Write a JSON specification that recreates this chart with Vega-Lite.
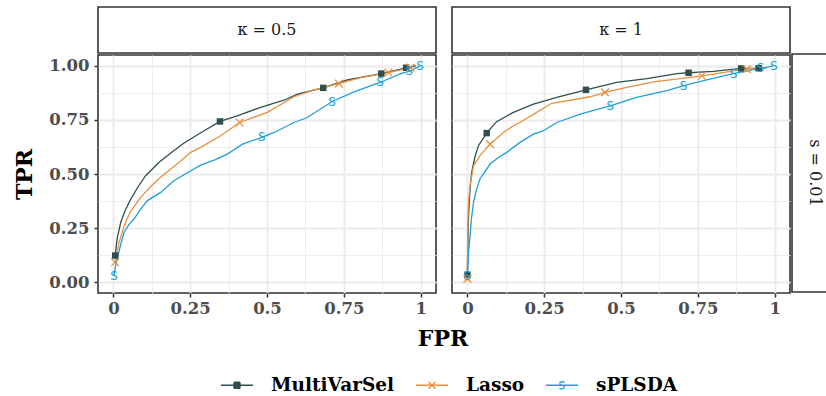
{
  "$schema": "https://vega.github.io/schema/vega-lite/v6.json",
  "padding": {"left": 13, "top": 6, "right": 0, "bottom": 0},
  "background": "white",
  "config": {
    "font": "DejaVu Serif",
    "view": {"stroke": "#333333", "strokeWidth": 1.6, "fill": "white"},
    "axis": {"domain": false, "gridColor": "#EBEBEB", "tickColor": "#333333", "tickWidth": 1.5, "tickSize": 4, "labelFont": "DejaVu Serif", "labelFontWeight": "bold", "labelFontSize": 16.5, "labelColor": "#4D4D4D", "titleFont": "DejaVu Serif", "titleFontWeight": "bold", "titleFontSize": 22, "titleColor": "black"},
    "legend": {"padding": 0}
  },
  "datasets": {
    "curves": [
      {"k":"0.5","m":"MultiVarSel","fpr":0.006,"tpr":0.123},{"k":"0.5","m":"MultiVarSel","fpr":0.012,"tpr":0.2},{"k":"0.5","m":"MultiVarSel","fpr":0.024,"tpr":0.277},{"k":"0.5","m":"MultiVarSel","fpr":0.038,"tpr":0.33},{"k":"0.5","m":"MultiVarSel","fpr":0.054,"tpr":0.377},{"k":"0.5","m":"MultiVarSel","fpr":0.08,"tpr":0.44},{"k":"0.5","m":"MultiVarSel","fpr":0.105,"tpr":0.492},{"k":"0.5","m":"MultiVarSel","fpr":0.149,"tpr":0.554},{"k":"0.5","m":"MultiVarSel","fpr":0.19,"tpr":0.6},{"k":"0.5","m":"MultiVarSel","fpr":0.23,"tpr":0.643},{"k":"0.5","m":"MultiVarSel","fpr":0.29,"tpr":0.695},{"k":"0.5","m":"MultiVarSel","fpr":0.347,"tpr":0.743},{"k":"0.5","m":"MultiVarSel","fpr":0.403,"tpr":0.769},{"k":"0.5","m":"MultiVarSel","fpr":0.479,"tpr":0.808},{"k":"0.5","m":"MultiVarSel","fpr":0.555,"tpr":0.841},{"k":"0.5","m":"MultiVarSel","fpr":0.599,"tpr":0.869},{"k":"0.5","m":"MultiVarSel","fpr":0.683,"tpr":0.898},{"k":"0.5","m":"MultiVarSel","fpr":0.761,"tpr":0.935},{"k":"0.5","m":"MultiVarSel","fpr":0.872,"tpr":0.964},{"k":"0.5","m":"MultiVarSel","fpr":0.953,"tpr":0.991},{"k":"0.5","m":"MultiVarSel","fpr":0.984,"tpr":1.0},
      {"k":"0.5","m":"Lasso","fpr":0.006,"tpr":0.092},{"k":"0.5","m":"Lasso","fpr":0.012,"tpr":0.14},{"k":"0.5","m":"Lasso","fpr":0.019,"tpr":0.185},{"k":"0.5","m":"Lasso","fpr":0.035,"tpr":0.26},{"k":"0.5","m":"Lasso","fpr":0.054,"tpr":0.323},{"k":"0.5","m":"Lasso","fpr":0.089,"tpr":0.392},{"k":"0.5","m":"Lasso","fpr":0.12,"tpr":0.44},{"k":"0.5","m":"Lasso","fpr":0.154,"tpr":0.485},{"k":"0.5","m":"Lasso","fpr":0.214,"tpr":0.554},{"k":"0.5","m":"Lasso","fpr":0.252,"tpr":0.6},{"k":"0.5","m":"Lasso","fpr":0.284,"tpr":0.623},{"k":"0.5","m":"Lasso","fpr":0.349,"tpr":0.677},{"k":"0.5","m":"Lasso","fpr":0.411,"tpr":0.738},{"k":"0.5","m":"Lasso","fpr":0.501,"tpr":0.785},{"k":"0.5","m":"Lasso","fpr":0.588,"tpr":0.857},{"k":"0.5","m":"Lasso","fpr":0.653,"tpr":0.889},{"k":"0.5","m":"Lasso","fpr":0.734,"tpr":0.918},{"k":"0.5","m":"Lasso","fpr":0.805,"tpr":0.945},{"k":"0.5","m":"Lasso","fpr":0.895,"tpr":0.969},{"k":"0.5","m":"Lasso","fpr":0.967,"tpr":0.992},
      {"k":"0.5","m":"sPLSDA","fpr":0.002,"tpr":0.03},{"k":"0.5","m":"sPLSDA","fpr":0.008,"tpr":0.08},{"k":"0.5","m":"sPLSDA","fpr":0.015,"tpr":0.123},{"k":"0.5","m":"sPLSDA","fpr":0.025,"tpr":0.18},{"k":"0.5","m":"sPLSDA","fpr":0.035,"tpr":0.231},{"k":"0.5","m":"sPLSDA","fpr":0.05,"tpr":0.265},{"k":"0.5","m":"sPLSDA","fpr":0.067,"tpr":0.292},{"k":"0.5","m":"sPLSDA","fpr":0.09,"tpr":0.34},{"k":"0.5","m":"sPLSDA","fpr":0.111,"tpr":0.377},{"k":"0.5","m":"sPLSDA","fpr":0.154,"tpr":0.415},{"k":"0.5","m":"sPLSDA","fpr":0.197,"tpr":0.469},{"k":"0.5","m":"sPLSDA","fpr":0.252,"tpr":0.515},{"k":"0.5","m":"sPLSDA","fpr":0.284,"tpr":0.541},{"k":"0.5","m":"sPLSDA","fpr":0.33,"tpr":0.565},{"k":"0.5","m":"sPLSDA","fpr":0.371,"tpr":0.592},{"k":"0.5","m":"sPLSDA","fpr":0.42,"tpr":0.638},{"k":"0.5","m":"sPLSDA","fpr":0.483,"tpr":0.669},{"k":"0.5","m":"sPLSDA","fpr":0.523,"tpr":0.692},{"k":"0.5","m":"sPLSDA","fpr":0.588,"tpr":0.738},{"k":"0.5","m":"sPLSDA","fpr":0.631,"tpr":0.761},{"k":"0.5","m":"sPLSDA","fpr":0.712,"tpr":0.835},{"k":"0.5","m":"sPLSDA","fpr":0.783,"tpr":0.88},{"k":"0.5","m":"sPLSDA","fpr":0.868,"tpr":0.923},{"k":"0.5","m":"sPLSDA","fpr":0.935,"tpr":0.964},{"k":"0.5","m":"sPLSDA","fpr":0.962,"tpr":0.974},{"k":"0.5","m":"sPLSDA","fpr":0.998,"tpr":1.0},
      {"k":"1","m":"MultiVarSel","fpr":0.0,"tpr":0.034},{"k":"1","m":"MultiVarSel","fpr":0.001,"tpr":0.12},{"k":"1","m":"MultiVarSel","fpr":0.002,"tpr":0.2},{"k":"1","m":"MultiVarSel","fpr":0.003,"tpr":0.277},{"k":"1","m":"MultiVarSel","fpr":0.006,"tpr":0.37},{"k":"1","m":"MultiVarSel","fpr":0.009,"tpr":0.44},{"k":"1","m":"MultiVarSel","fpr":0.014,"tpr":0.508},{"k":"1","m":"MultiVarSel","fpr":0.024,"tpr":0.575},{"k":"1","m":"MultiVarSel","fpr":0.036,"tpr":0.631},{"k":"1","m":"MultiVarSel","fpr":0.063,"tpr":0.689},{"k":"1","m":"MultiVarSel","fpr":0.095,"tpr":0.742},{"k":"1","m":"MultiVarSel","fpr":0.15,"tpr":0.785},{"k":"1","m":"MultiVarSel","fpr":0.215,"tpr":0.823},{"k":"1","m":"MultiVarSel","fpr":0.291,"tpr":0.854},{"k":"1","m":"MultiVarSel","fpr":0.386,"tpr":0.889},{"k":"1","m":"MultiVarSel","fpr":0.486,"tpr":0.923},{"k":"1","m":"MultiVarSel","fpr":0.584,"tpr":0.941},{"k":"1","m":"MultiVarSel","fpr":0.682,"tpr":0.964},{"k":"1","m":"MultiVarSel","fpr":0.72,"tpr":0.968},{"k":"1","m":"MultiVarSel","fpr":0.801,"tpr":0.974},{"k":"1","m":"MultiVarSel","fpr":0.891,"tpr":0.988},{"k":"1","m":"MultiVarSel","fpr":0.948,"tpr":0.989},{"k":"1","m":"MultiVarSel","fpr":0.975,"tpr":0.992},
      {"k":"1","m":"Lasso","fpr":0.0,"tpr":0.015},{"k":"1","m":"Lasso","fpr":0.0,"tpr":0.1},{"k":"1","m":"Lasso","fpr":0.001,"tpr":0.2},{"k":"1","m":"Lasso","fpr":0.002,"tpr":0.28},{"k":"1","m":"Lasso","fpr":0.003,"tpr":0.354},{"k":"1","m":"Lasso","fpr":0.008,"tpr":0.44},{"k":"1","m":"Lasso","fpr":0.02,"tpr":0.538},{"k":"1","m":"Lasso","fpr":0.041,"tpr":0.585},{"k":"1","m":"Lasso","fpr":0.074,"tpr":0.638},{"k":"1","m":"Lasso","fpr":0.117,"tpr":0.692},{"k":"1","m":"Lasso","fpr":0.15,"tpr":0.723},{"k":"1","m":"Lasso","fpr":0.171,"tpr":0.738},{"k":"1","m":"Lasso","fpr":0.22,"tpr":0.78},{"k":"1","m":"Lasso","fpr":0.275,"tpr":0.827},{"k":"1","m":"Lasso","fpr":0.4,"tpr":0.857},{"k":"1","m":"Lasso","fpr":0.448,"tpr":0.877},{"k":"1","m":"Lasso","fpr":0.519,"tpr":0.9},{"k":"1","m":"Lasso","fpr":0.606,"tpr":0.926},{"k":"1","m":"Lasso","fpr":0.693,"tpr":0.941},{"k":"1","m":"Lasso","fpr":0.763,"tpr":0.954},{"k":"1","m":"Lasso","fpr":0.866,"tpr":0.977},{"k":"1","m":"Lasso","fpr":0.91,"tpr":0.985},{"k":"1","m":"Lasso","fpr":0.964,"tpr":0.992},
      {"k":"1","m":"sPLSDA","fpr":0.0,"tpr":0.03},{"k":"1","m":"sPLSDA","fpr":0.002,"tpr":0.08},{"k":"1","m":"sPLSDA","fpr":0.004,"tpr":0.14},{"k":"1","m":"sPLSDA","fpr":0.008,"tpr":0.2},{"k":"1","m":"sPLSDA","fpr":0.013,"tpr":0.29},{"k":"1","m":"sPLSDA","fpr":0.02,"tpr":0.369},{"k":"1","m":"sPLSDA","fpr":0.03,"tpr":0.43},{"k":"1","m":"sPLSDA","fpr":0.041,"tpr":0.477},{"k":"1","m":"sPLSDA","fpr":0.074,"tpr":0.546},{"k":"1","m":"sPLSDA","fpr":0.1,"tpr":0.575},{"k":"1","m":"sPLSDA","fpr":0.128,"tpr":0.6},{"k":"1","m":"sPLSDA","fpr":0.17,"tpr":0.645},{"k":"1","m":"sPLSDA","fpr":0.215,"tpr":0.684},{"k":"1","m":"sPLSDA","fpr":0.248,"tpr":0.7},{"k":"1","m":"sPLSDA","fpr":0.291,"tpr":0.738},{"k":"1","m":"sPLSDA","fpr":0.367,"tpr":0.777},{"k":"1","m":"sPLSDA","fpr":0.465,"tpr":0.815},{"k":"1","m":"sPLSDA","fpr":0.551,"tpr":0.854},{"k":"1","m":"sPLSDA","fpr":0.649,"tpr":0.885},{"k":"1","m":"sPLSDA","fpr":0.704,"tpr":0.908},{"k":"1","m":"sPLSDA","fpr":0.779,"tpr":0.935},{"k":"1","m":"sPLSDA","fpr":0.866,"tpr":0.964},{"k":"1","m":"sPLSDA","fpr":0.953,"tpr":0.988},{"k":"1","m":"sPLSDA","fpr":0.997,"tpr":1.0}
    ],
    "markers": [
      {"k":"0.5","m":"MultiVarSel","fpr":0.006,"tpr":0.123},{"k":"0.5","m":"MultiVarSel","fpr":0.347,"tpr":0.743},{"k":"0.5","m":"MultiVarSel","fpr":0.683,"tpr":0.898},{"k":"0.5","m":"MultiVarSel","fpr":0.872,"tpr":0.964},{"k":"0.5","m":"MultiVarSel","fpr":0.953,"tpr":0.991},
      {"k":"0.5","m":"Lasso","fpr":0.006,"tpr":0.092},{"k":"0.5","m":"Lasso","fpr":0.411,"tpr":0.738},{"k":"0.5","m":"Lasso","fpr":0.734,"tpr":0.918},{"k":"0.5","m":"Lasso","fpr":0.895,"tpr":0.969},{"k":"0.5","m":"Lasso","fpr":0.967,"tpr":0.992},
      {"k":"0.5","m":"sPLSDA","fpr":0.002,"tpr":0.03},{"k":"0.5","m":"sPLSDA","fpr":0.483,"tpr":0.669},{"k":"0.5","m":"sPLSDA","fpr":0.712,"tpr":0.835},{"k":"0.5","m":"sPLSDA","fpr":0.868,"tpr":0.923},{"k":"0.5","m":"sPLSDA","fpr":0.962,"tpr":0.974},{"k":"0.5","m":"sPLSDA","fpr":0.998,"tpr":1.0},
      {"k":"1","m":"MultiVarSel","fpr":0.0,"tpr":0.034},{"k":"1","m":"MultiVarSel","fpr":0.063,"tpr":0.689},{"k":"1","m":"MultiVarSel","fpr":0.386,"tpr":0.889},{"k":"1","m":"MultiVarSel","fpr":0.72,"tpr":0.968},{"k":"1","m":"MultiVarSel","fpr":0.891,"tpr":0.988},{"k":"1","m":"MultiVarSel","fpr":0.948,"tpr":0.989},
      {"k":"1","m":"Lasso","fpr":0.0,"tpr":0.015},{"k":"1","m":"Lasso","fpr":0.074,"tpr":0.638},{"k":"1","m":"Lasso","fpr":0.448,"tpr":0.877},{"k":"1","m":"Lasso","fpr":0.763,"tpr":0.954},{"k":"1","m":"Lasso","fpr":0.91,"tpr":0.985},
      {"k":"1","m":"sPLSDA","fpr":0.0,"tpr":0.03},{"k":"1","m":"sPLSDA","fpr":0.465,"tpr":0.815},{"k":"1","m":"sPLSDA","fpr":0.704,"tpr":0.908},{"k":"1","m":"sPLSDA","fpr":0.866,"tpr":0.964},{"k":"1","m":"sPLSDA","fpr":0.953,"tpr":0.988},{"k":"1","m":"sPLSDA","fpr":0.997,"tpr":1.0}
    ]
  },
  "spacing": 7,
  "vconcat": [
    {
      "spacing": 14,
      "hconcat": [
        {
          "spacing": 0,
          "vconcat": [
            {
              "width": 338, "height": 46,
              "view": {"stroke": "#333333", "strokeWidth": 1.6, "fill": "white"},
              "data": {"values": [{"t": "κ = 0.5"}]},
              "mark": {"type": "text", "fontSize": 16, "font": "DejaVu Serif", "color": "#1A1A1A", "baseline": "middle", "align": "center"},
              "encoding": {
                "text": {"field": "t"},
                "x": {"datum": 0.5, "type": "quantitative", "scale": {"domain": [0, 1]}, "axis": null},
                "y": {"datum": 0.5, "type": "quantitative", "scale": {"domain": [0, 1]}, "axis": null}
              }
            },
            {
              "width": 338, "height": 238,
              "encoding": {
                "x": {"field": "fpr", "type": "quantitative", "scale": {"domain": [-0.05, 1.05], "nice": false, "zero": false},
                  "axis": {"title": null, "values": [0, 0.125, 0.25, 0.375, 0.5, 0.625, 0.75, 0.875, 1], "labelExpr": "(datum.value*4) % 1 === 0 ? format(datum.value, '~g') : ''", "labelPadding": 3, "labelFlush": false,
                    "gridWidth": {"condition": {"test": "(datum.value*4) % 1 !== 0", "value": 0.9}, "value": 1.8},
                    "tickOpacity": {"condition": {"test": "(datum.value*4) % 1 !== 0", "value": 0}, "value": 1}}},
                "y": {"field": "tpr", "type": "quantitative", "scale": {"domain": [-0.05, 1.05], "nice": false, "zero": false},
                  "axis": {"title": "TPR", "titlePadding": 12, "values": [0, 0.125, 0.25, 0.375, 0.5, 0.625, 0.75, 0.875, 1], "labelExpr": "(datum.value*4) % 1 === 0 ? format(datum.value, '.2f') : ''", "labelPadding": 5, "labelFlush": false,
                    "gridWidth": {"condition": {"test": "(datum.value*4) % 1 !== 0", "value": 0.9}, "value": 1.8},
                    "tickOpacity": {"condition": {"test": "(datum.value*4) % 1 !== 0", "value": 0}, "value": 1}}}
              },
              "layer": [
                {"data": {"name": "curves"}, "transform": [{"filter": "datum.k === '0.5' && datum.m === 'MultiVarSel'"}], "mark": {"type": "line", "color": "#2F4F4F", "strokeWidth": 1.3}, "encoding": {"order": {"field": "tpr", "type": "quantitative"}}},
                {"data": {"name": "curves"}, "transform": [{"filter": "datum.k === '0.5' && datum.m === 'Lasso'"}], "mark": {"type": "line", "color": "#E6913F", "strokeWidth": 1.3}, "encoding": {"order": {"field": "tpr", "type": "quantitative"}}},
                {"data": {"name": "curves"}, "transform": [{"filter": "datum.k === '0.5' && datum.m === 'sPLSDA'"}], "mark": {"type": "line", "color": "#1EA0D8", "strokeWidth": 1.3}, "encoding": {"order": {"field": "tpr", "type": "quantitative"}}},
                {"data": {"name": "markers"}, "transform": [{"filter": "datum.k === '0.5' && datum.m === 'MultiVarSel'"}], "mark": {"type": "point", "shape": "square", "filled": true, "size": 42, "color": "#2F4F4F", "opacity": 1}},
                {"data": {"name": "markers"}, "transform": [{"filter": "datum.k === '0.5' && datum.m === 'Lasso'"}], "mark": {"type": "point", "shape": "M-1,-1L1,1M-1,1L1,-1", "filled": false, "size": 60, "strokeWidth": 1.3, "color": "#E6913F", "opacity": 1}},
                {"data": {"name": "markers"}, "transform": [{"filter": "datum.k === '0.5' && datum.m === 'sPLSDA'"}], "mark": {"type": "text", "text": "S", "font": "DejaVu Sans", "fontSize": 12, "baseline": "middle", "align": "center", "color": "#1EA0D8"}}
              ]
            }
          ]
        },
        {
          "spacing": 0,
          "hconcat": [
            {
              "spacing": 0,
              "vconcat": [
                {
                  "width": 338, "height": 46,
                  "view": {"stroke": "#333333", "strokeWidth": 1.6, "fill": "white"},
                  "data": {"values": [{"t": "κ = 1"}]},
                  "mark": {"type": "text", "fontSize": 16, "font": "DejaVu Serif", "color": "#1A1A1A", "baseline": "middle", "align": "center"},
                  "encoding": {
                    "text": {"field": "t"},
                    "x": {"datum": 0.5, "type": "quantitative", "scale": {"domain": [0, 1]}, "axis": null},
                    "y": {"datum": 0.5, "type": "quantitative", "scale": {"domain": [0, 1]}, "axis": null}
                  }
                },
                {
                  "width": 338, "height": 238,
                  "encoding": {
                    "x": {"field": "fpr", "type": "quantitative", "scale": {"domain": [-0.05, 1.05], "nice": false, "zero": false},
                      "axis": {"title": null, "values": [0, 0.125, 0.25, 0.375, 0.5, 0.625, 0.75, 0.875, 1], "labelExpr": "(datum.value*4) % 1 === 0 ? format(datum.value, '~g') : ''", "labelPadding": 3, "labelFlush": false,
                        "gridWidth": {"condition": {"test": "(datum.value*4) % 1 !== 0", "value": 0.9}, "value": 1.8},
                        "tickOpacity": {"condition": {"test": "(datum.value*4) % 1 !== 0", "value": 0}, "value": 1}}},
                    "y": {"field": "tpr", "type": "quantitative", "scale": {"domain": [-0.05, 1.05], "nice": false, "zero": false},
                      "axis": {"title": null, "labels": false, "ticks": false, "values": [0, 0.125, 0.25, 0.375, 0.5, 0.625, 0.75, 0.875, 1],
                        "gridWidth": {"condition": {"test": "(datum.value*4) % 1 !== 0", "value": 0.9}, "value": 1.8}}}
                  },
                  "layer": [
                    {"data": {"name": "curves"}, "transform": [{"filter": "datum.k === '1' && datum.m === 'MultiVarSel'"}], "mark": {"type": "line", "color": "#2F4F4F", "strokeWidth": 1.3}, "encoding": {"order": {"field": "tpr", "type": "quantitative"}}},
                    {"data": {"name": "curves"}, "transform": [{"filter": "datum.k === '1' && datum.m === 'Lasso'"}], "mark": {"type": "line", "color": "#E6913F", "strokeWidth": 1.3}, "encoding": {"order": {"field": "tpr", "type": "quantitative"}}},
                    {"data": {"name": "curves"}, "transform": [{"filter": "datum.k === '1' && datum.m === 'sPLSDA'"}], "mark": {"type": "line", "color": "#1EA0D8", "strokeWidth": 1.3}, "encoding": {"order": {"field": "tpr", "type": "quantitative"}}},
                    {"data": {"name": "markers"}, "transform": [{"filter": "datum.k === '1' && datum.m === 'MultiVarSel'"}], "mark": {"type": "point", "shape": "square", "filled": true, "size": 42, "color": "#2F4F4F", "opacity": 1}},
                    {"data": {"name": "markers"}, "transform": [{"filter": "datum.k === '1' && datum.m === 'Lasso'"}], "mark": {"type": "point", "shape": "M-1,-1L1,1M-1,1L1,-1", "filled": false, "size": 60, "strokeWidth": 1.3, "color": "#E6913F", "opacity": 1}},
                    {"data": {"name": "markers"}, "transform": [{"filter": "datum.k === '1' && datum.m === 'sPLSDA'"}], "mark": {"type": "text", "text": "S", "font": "DejaVu Sans", "fontSize": 12, "baseline": "middle", "align": "center", "color": "#1EA0D8"}},
                    {"data": {"name": "markers"}, "transform": [{"filter": "datum.k === '1'"}], "mark": {"type": "point", "filled": false, "opacity": 0},
                      "encoding": {
                        "color": {"field": "m", "type": "nominal", "scale": {"domain": ["MultiVarSel", "Lasso", "sPLSDA"], "range": ["#2F4F4F", "#E6913F", "#1EA0D8"]},
                          "legend": {"title": null, "orient": "none", "legendX": 122, "legendY": 361, "direction": "horizontal", "symbolOpacity": 1, "symbolSize": 1024, "symbolStrokeWidth": 1.3, "labelFont": "DejaVu Serif", "labelFontWeight": "bold", "labelFontSize": 18.5, "labelColor": "black", "labelOffset": 17, "columnPadding": 18}},
                        "shape": {"field": "m", "type": "nominal", "scale": {"domain": ["MultiVarSel", "Lasso", "sPLSDA"], "range": [
                          "M-1,0H1M-0.19,-0.19H0.19M-0.19,-0.125H0.19M-0.19,-0.0625H0.19M-0.19,0.0625H0.19M-0.19,0.125H0.19M-0.19,0.19H0.19M-0.19,-0.19V0.19M0.19,-0.19V0.19",
                          "M-1,0H1M-0.22,-0.22L0.22,0.22M-0.22,0.22L0.22,-0.22",
                          "M-1,0H1M0.15,-0.16L0.1,-0.22M0.1,-0.22L0,-0.23M0,-0.23L-0.1,-0.21M-0.1,-0.21L-0.15,-0.13M-0.15,-0.13L-0.1,-0.04M-0.1,-0.04L0,0M0,0L0.1,0.04M0.1,0.04L0.15,0.13M0.15,0.13L0.1,0.21M0.1,0.21L0,0.23M0,0.23L-0.1,0.22M-0.1,0.22L-0.15,0.16"]},
                          "legend": {"title": null, "orient": "none", "legendX": 122, "legendY": 361, "direction": "horizontal", "symbolOpacity": 1, "symbolSize": 1024, "symbolStrokeWidth": 1.3, "labelFont": "DejaVu Serif", "labelFontWeight": "bold", "labelFontSize": 18.5, "labelColor": "black", "labelOffset": 17, "columnPadding": 18}}
                      }}
                  ]
                }
              ]
            },
            {
              "spacing": 0,
              "vconcat": [
                {
                  "width": 46, "height": 46,
                  "view": {"stroke": null, "fill": null},
                  "data": {"values": [{"t": ""}]},
                  "mark": {"type": "text"},
                  "encoding": {"text": {"field": "t"}}
                },
                {
                  "width": 46, "height": 238,
                  "view": {"stroke": "#333333", "strokeWidth": 1.6, "fill": "white"},
                  "data": {"values": [{"t": "s = 0.01"}]},
                  "mark": {"type": "text", "fontSize": 16, "font": "DejaVu Serif", "color": "#1A1A1A", "angle": 90, "baseline": "middle", "align": "center"},
                  "encoding": {
                    "text": {"field": "t"},
                    "x": {"datum": 0.5, "type": "quantitative", "scale": {"domain": [0, 1]}, "axis": null},
                    "y": {"datum": 0.5, "type": "quantitative", "scale": {"domain": [0, 1]}, "axis": null}
                  }
                }
              ]
            }
          ]
        }
      ]
    },
    {
      "width": 690, "height": 28,
      "view": {"stroke": null, "fill": null},
      "data": {"values": [{"t": "FPR"}]},
      "mark": {"type": "text", "fontSize": 22, "fontWeight": "bold", "font": "DejaVu Serif", "color": "black", "baseline": "middle", "align": "center"},
      "encoding": {
        "text": {"field": "t"},
        "x": {"datum": 0.5, "type": "quantitative", "scale": {"domain": [0, 1]}, "axis": null},
        "y": {"datum": 0.5, "type": "quantitative", "scale": {"domain": [0, 1]}, "axis": null}
      }
    }
  ]
}
